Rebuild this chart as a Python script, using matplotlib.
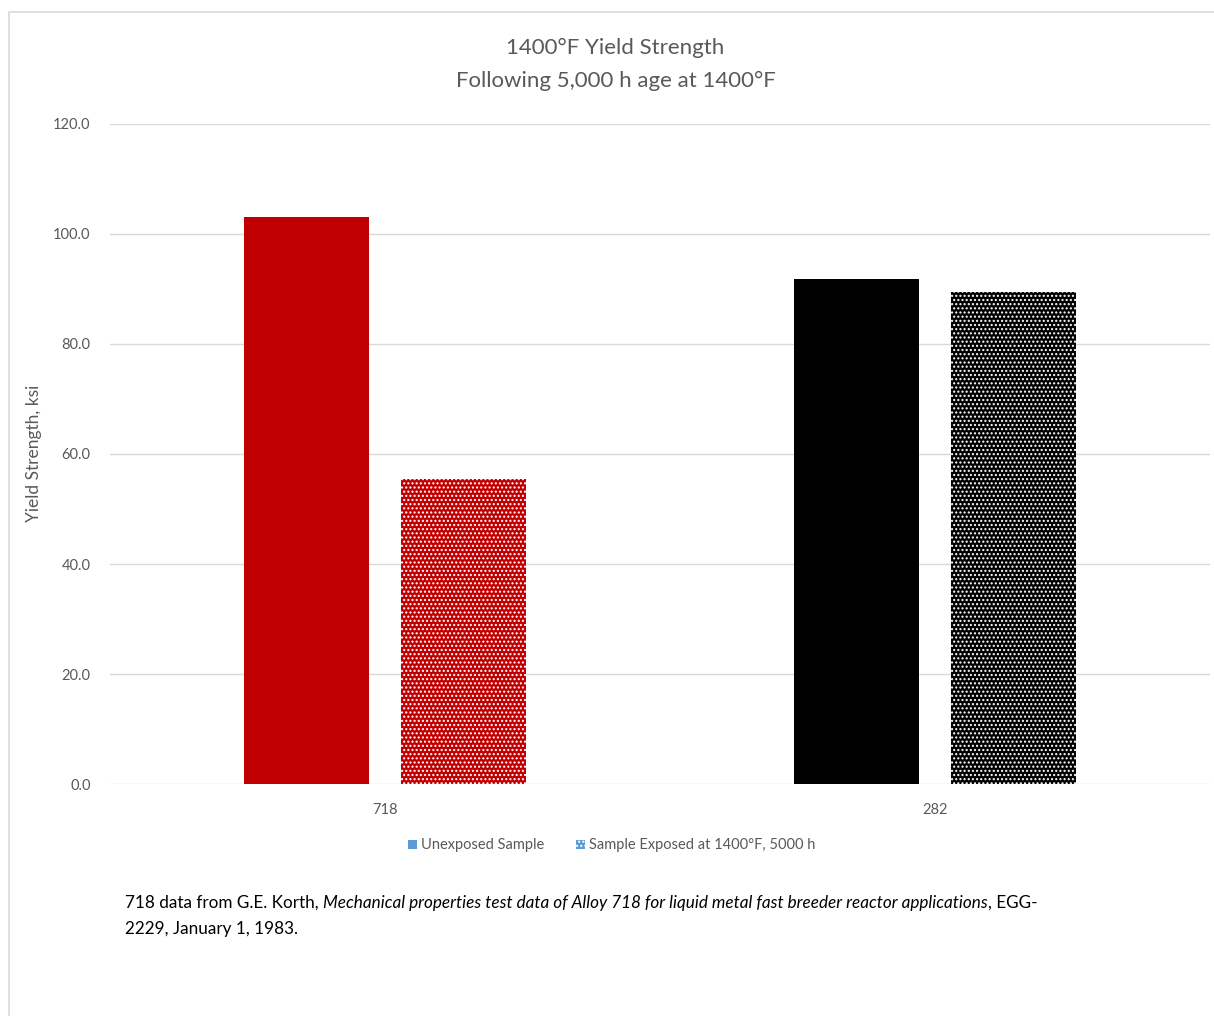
import matplotlib
matplotlib.use("Agg")
import matplotlib.pyplot as plt
from matplotlib.patches import Patch, Rectangle
import numpy as np

# data
alloys = ["718", "282"]
unexposed = [103.0, 91.8]
exposed = [55.5, 89.5]
bar_colors = ["#C00000", "#000000"]
yticks = [0, 20, 40, 60, 80, 100, 120]

plt.rcParams["font.family"] = ["Lato", "DejaVu Sans"]
plt.rcParams["hatch.linewidth"] = 1.0

fig = plt.figure(figsize=(12.14, 10.16), dpi=100)
ax = fig.add_axes([0.0906, 0.2283, 0.906, 0.6497])

x = np.arange(len(alloys))
w = 0.227
off = 0.143
ax.bar(x - off, unexposed, w, color=bar_colors, linewidth=0, zorder=3)
ax.bar(x + off, exposed, w, color=bar_colors, edgecolor="white",
       hatch="....", linewidth=0, zorder=3)

ax.set_xlim(-0.5, 1.5)
ax.set_ylim(0, 120)
ax.set_yticks(yticks)
ax.set_yticklabels([f"{v:.1f}" for v in yticks])
ax.set_xticks(x)
ax.set_xticklabels(alloys)
ax.tick_params(length=0, colors="#595959", labelsize=10.5)
ax.tick_params(axis="y", pad=14)
ax.tick_params(axis="x", pad=14)
ax.grid(axis="y", color="#D9D9D9", linewidth=1, zorder=0)
for s in ax.spines.values():
    s.set_visible(False)
ax.set_ylabel("Yield Strength, ksi", color="#595959", fontsize=12.5)
ax.yaxis.set_label_coords(42 / 1214, 1 - 453 / 1016, transform=fig.transFigure)

fig.text(0.507, 0.953, "1400°F Yield Strength", ha="center", va="center",
         fontsize=16, color="#595959")
fig.text(0.507, 0.920, "Following 5,000 h age at 1400°F", ha="center", va="center",
         fontsize=16, color="#595959")

handles = [Patch(facecolor="#5B9BD5", linewidth=0),
           Patch(facecolor="#5B9BD5", edgecolor="white", hatch="....", linewidth=0)]
fig.legend(handles, ["Unexposed Sample", "Sample Exposed at 1400°F, 5000 h"],
           loc="center", bbox_to_anchor=(0.504, 0.168), ncol=2, frameon=False,
           fontsize=10.5, labelcolor="#595959", handlelength=0.6, handleheight=0.6,
           handletextpad=0.3, columnspacing=2.2)

# caption with an italic title in the middle
fig.canvas.draw()
renderer = fig.canvas.get_renderer()
cx = 125 / 1214
cy = 1 - 903 / 1016
parts = [("718 data from G.E. Korth, ", "normal"),
         ("Mechanical properties test data of Alloy 718 for liquid metal fast breeder reactor applications", "italic"),
         (", EGG-", "normal")]
for txt, style in parts:
    t = fig.text(cx, cy, txt, fontsize=12.3, style=style, color="black", va="center")
    bb = t.get_window_extent(renderer)
    cx += bb.width / fig.bbox.width
fig.text(125 / 1214, 1 - 929 / 1016, "2229, January 1, 1983.", fontsize=12.3,
         color="black", va="center")

fig.patches.append(Rectangle((9 / 1214, -0.02), 1.2, 1.02 - 12 / 1016,
                             transform=fig.transFigure, fill=False,
                             edgecolor="#D9D9D9", linewidth=1.2, clip_on=False))

fig.savefig("out.png", dpi=100)
